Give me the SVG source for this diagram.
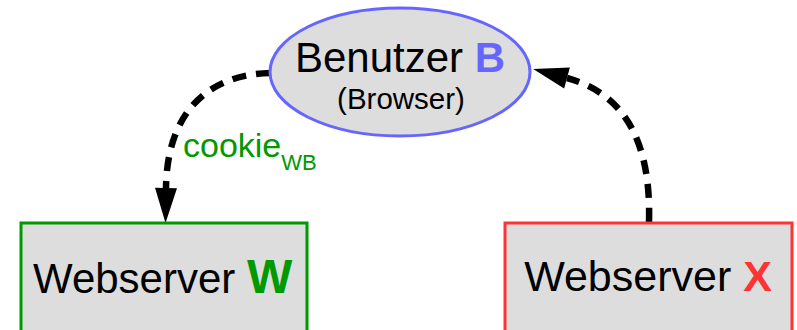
<svg xmlns="http://www.w3.org/2000/svg" width="797" height="330" viewBox="0 0 797 330">
  <style>
    text { font-family: "Liberation Sans", Arial, sans-serif; fill: #000; }
    .node { fill: #dddddd; stroke-width: 3; }
    .flow { fill: none; stroke: #000; stroke-width: 6.5; stroke-dasharray: 14 10; }
    .bold { font-weight: bold; }
  </style>
  <defs>
    <marker id="head" markerUnits="userSpaceOnUse" markerWidth="36" markerHeight="24" viewBox="0 -12 36 24" refX="0" refY="0" orient="auto" overflow="visible">
      <path d="M0,-11 L35,0 L0,11 z" fill="#000"/>
    </marker>
  </defs>

  <g id="connectors">
    <path class="flow" d="M270,73 C205,75 167,115 166,188" marker-end="url(#head)"/>
    <path class="flow" d="M649,222 C651,150 630,95 567,78" marker-end="url(#head)"/>
    <text x="183" y="157" font-size="34" style="fill:#009900">cookie<tspan font-size="22" dy="13">WB</tspan></text>
  </g>

  <g id="benutzer">
    <ellipse class="node" cx="400" cy="72" rx="130" ry="64" stroke="#6666ff"/>
    <text x="400" y="72" font-size="42" text-anchor="middle">Benutzer <tspan class="bold" style="fill:#6666ff">B</tspan></text>
    <text x="401" y="109" font-size="29.5" text-anchor="middle">(Browser)</text>
  </g>

  <g id="webserver-w">
    <rect class="node" x="21" y="223" width="286" height="130" stroke="#009900"/>
    <text x="33" y="293" font-size="42">Webserver <tspan class="bold" font-size="48" style="fill:#009900">W</tspan></text>
  </g>

  <g id="webserver-x">
    <rect class="node" x="505" y="223" width="287" height="130" stroke="#ff3333"/>
    <text x="648" y="291" font-size="43" text-anchor="middle">Webserver <tspan class="bold" style="fill:#ff3333">X</tspan></text>
  </g>
</svg>
